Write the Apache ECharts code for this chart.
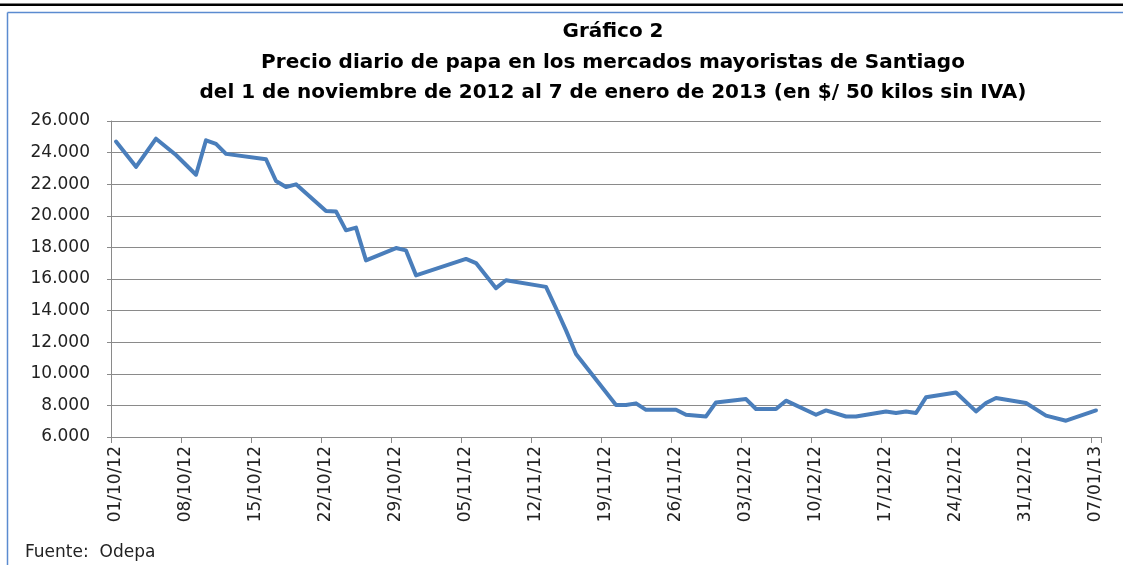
<!DOCTYPE html>
<html><head><meta charset="utf-8">
<script src="https://cdn.jsdelivr.net/npm/echarts@6/dist/echarts.min.js"></script>
<style>html,body{margin:0;padding:0;background:#fff}#c{width:1123px;height:565px}</style>
</head><body><div id="c"></div>
<script>
const titleLines = [
  'Gráfico 2',
  'Precio diario de papa en los mercados mayoristas de Santiago',
  'del 1 de noviembre de 2012 al 7 de enero de 2013 (en $/ 50 kilos sin IVA)'
];
const sourceNote = 'Fuente:  Odepa';

// observed dates (dd/mm/yy) and prices ($ / 50 kg)
const obsDates = [
  '01/10/12','03/10/12','05/10/12','07/10/12','09/10/12','10/10/12','11/10/12','12/10/12',
  '16/10/12','17/10/12','18/10/12','19/10/12','22/10/12','23/10/12','24/10/12','25/10/12',
  '26/10/12','29/10/12','30/10/12','31/10/12','05/11/12','06/11/12','08/11/12','09/11/12',
  '13/11/12','14/11/12','15/11/12','16/11/12','20/11/12','21/11/12','22/11/12','23/11/12',
  '26/11/12','27/11/12','29/11/12','30/11/12','03/12/12','04/12/12','06/12/12','07/12/12',
  '10/12/12','11/12/12','13/12/12','14/12/12','17/12/12','18/12/12','19/12/12','20/12/12',
  '21/12/12','24/12/12','26/12/12','27/12/12','28/12/12','31/12/12','02/01/13','04/01/13',
  '07/01/13'
];
const prices = [
  24700, 23100, 24880, 23850, 22600, 24780, 24550, 23920,
  23580, 22200, 21820, 21990, 20300, 20280, 19080, 19250,
  17180, 17960, 17810, 16230, 17270, 17010, 15420, 15920,
  15500, 14150, 12750, 11250, 8020, 8020, 8130, 7720,
  7730, 7410, 7300, 8190, 8400, 7770, 7770, 8300,
  7410, 7680, 7300, 7300, 7620, 7520, 7620, 7520,
  8510, 8820, 7620, 8150, 8470, 8150, 7350, 7030,
  7680
];
const axisStart = [2012, 9, 1];   // 1 Oct 2012
const axisDays = 99;              // through 7 Jan 2013
const yMin = 6000, yMax = 26000, yStep = 2000;

function fmt(d) {
  const p = n => (n < 10 ? '0' : '') + n;
  return p(d.getDate()) + '/' + p(d.getMonth() + 1) + '/' + p(d.getFullYear() % 100);
}
const categories = [];
for (let i = 0; i < axisDays; i++) {
  categories.push(fmt(new Date(axisStart[0], axisStart[1], axisStart[2] + i)));
}
const seriesData = categories.map(() => null);
obsDates.forEach((d, i) => {
  const idx = categories.indexOf(d);
  if (idx >= 0) seriesData[idx] = prices[i];
});

const gray = '#8a8a8a';
const titleFont = 'bold 20px "DejaVu Sans"';
const chart = echarts.init(document.getElementById('c'), null, {renderer: 'canvas'});
chart.setOption({
  backgroundColor: '#fff',
  animation: false,
  grid: {left: 111, right: 22, top: 121, bottom: 128, containLabel: false, outerBoundsMode: 'none'},
  xAxis: {
    type: 'category',
    data: categories,
    boundaryGap: true,
    axisLine: {show: true, lineStyle: {color: gray, width: 1}},
    axisTick: {show: true, interval: 6, length: 6, alignWithLabel: false, lineStyle: {color: gray}},
    axisLabel: {
      interval: 6, rotate: 90, margin: 9,
      fontFamily: 'DejaVu Sans', fontSize: 17, color: '#222'
    },
    splitLine: {show: false}
  },
  yAxis: {
    type: 'value',
    min: yMin, max: yMax, interval: yStep,
    axisLine: {show: true, lineStyle: {color: gray, width: 1}},
    axisTick: {show: true, length: 4, lineStyle: {color: gray}},
    axisLabel: {
      margin: 21, fontFamily: 'DejaVu Sans', fontSize: 17, color: '#222',
      formatter: v => Math.round(v / 1000) + '.000'
    },
    splitLine: {show: true, lineStyle: {color: gray, width: 1}}
  },
  series: [{
    type: 'line',
    data: seriesData,
    connectNulls: true,
    showSymbol: false,
    symbol: 'none',
    lineStyle: {color: '#4a7ebb', width: 4, join: 'round', cap: 'round'},
    itemStyle: {color: '#4a7ebb'}
  }],
  graphic: [
    {type: 'rect', shape: {x: 0, y: 3.5, width: 1123, height: 2.5}, style: {fill: '#000'}},
    {type: 'line', shape: {x1: 7.5, y1: 12.5, x2: 1123, y2: 12.5}, style: {stroke: '#5b8bd0', lineWidth: 1.5}},
    {type: 'line', shape: {x1: 7.5, y1: 12.5, x2: 7.5, y2: 565}, style: {stroke: '#5b8bd0', lineWidth: 1.5}},
    {type: 'text', x: 613, y: 32, style: {text: titleLines[0], align: 'center', verticalAlign: 'middle', font: titleFont, fill: '#000'}},
    {type: 'text', x: 613, y: 63, style: {text: titleLines[1], align: 'center', verticalAlign: 'middle', font: titleFont, fill: '#000'}},
    {type: 'text', x: 613, y: 93, style: {text: titleLines[2], align: 'center', verticalAlign: 'middle', font: titleFont, fill: '#000'}},
    {type: 'text', x: 25, y: 553, style: {text: sourceNote, align: 'left', verticalAlign: 'middle', font: '17px "DejaVu Sans"', fill: '#222'}}
  ]
});
</script>
</body></html>
